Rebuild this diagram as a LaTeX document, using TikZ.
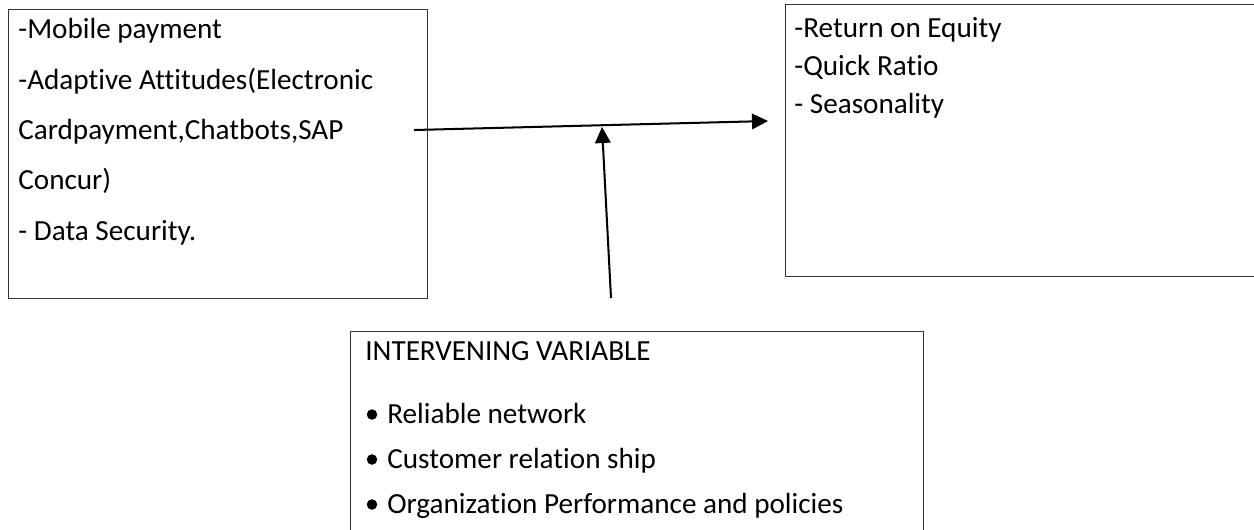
\documentclass[tikz,border=0pt]{standalone}
\usepackage{fontspec}
\setmainfont{Carlito}[Ligatures=NoCommon]
\usetikzlibrary{arrows.meta}

\begin{document}
\begin{tikzpicture}[x=0.02cm, y=-0.02cm,
  varbox/.style={draw=black!80, line width=0.6pt, anchor=north west, inner sep=0pt},
  txt/.style={anchor=base west, inner sep=0pt, font=\fontsize{16.6}{19}\selectfont},
  dot/.style={fill=black, circle, inner sep=0pt, minimum size=0.21cm},
  link/.style={line width=1.15pt, -{Triangle[length=0.32cm, width=0.31cm]}}]
\useasboundingbox (0,0) rectangle (1254,529);
% boxes
\node (indep) at(8,9)[varbox, minimum width=8.38cm, minimum height=5.78cm]{};
\node (dep) at(785,4)[varbox, minimum width=9.6cm, minimum height=5.44cm]{};
\node (interv) at(350,331)[varbox, minimum width=11.46cm, minimum height=4.5cm]{};
% independent variables
\node (mob) at(18,38)[txt]{-Mobile payment};
\node (adapt) at(18,89)[txt]{-Adaptive Attitudes(Electronic};
\node (card) at(18,139)[txt]{Cardpayment,Chatbots,SAP};
\node (concur) at(18,189)[txt]{Concur)};
\node (datasec) at(18,240)[txt]{- Data Security.};
% dependent variables
\node (roe) at(794,37)[txt]{-Return on Equity};
\node (quick) at(794,75)[txt]{-Quick Ratio};
\node (season) at(794,113)[txt]{- Seasonality};
% intervening variables
\node (ivhead) at(365,360)[txt]{INTERVENING VARIABLE};
\node (net) at(387,423)[txt]{Reliable network};
\node (cust) at(387,468)[txt]{Customer relation ship};
\node (org) at(387,513)[txt]{Organization Performance and policies};
\foreach \n in {net,cust,org}
  \node[dot] (b\n) at ([xshift=-0.3cm, yshift=0.17cm]\n.base west){};
% arrows
\coordinate (start) at (414,130);
\coordinate (finish) at (768,121);
\coordinate (tail) at (611,298);
\coordinate (meet) at (602,127);
\draw[link](start) -- (finish);
\draw[link](tail) -- (meet);
\end{tikzpicture}
\end{document}
